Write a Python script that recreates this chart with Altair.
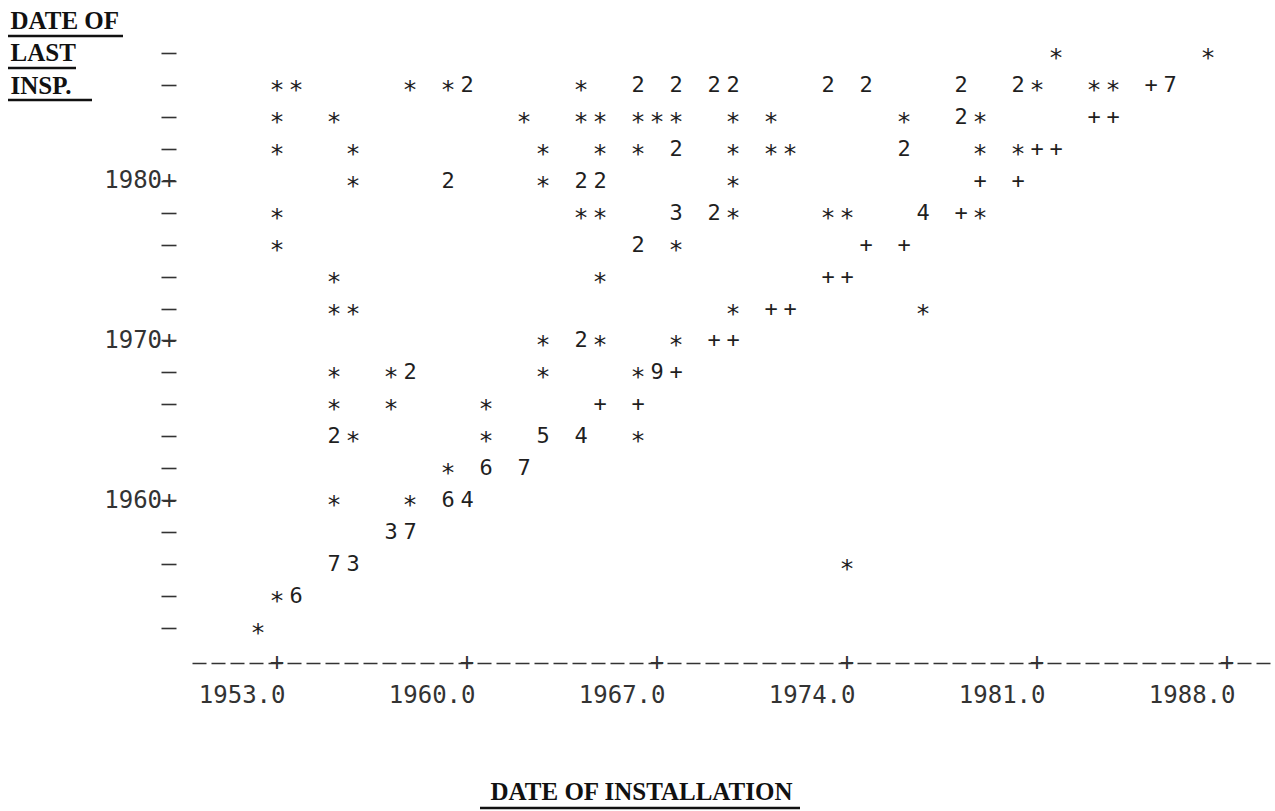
import altair as alt
import pandas as pd

INK = "#1f1f1f"
MONO = "DejaVu Sans Mono"
SERIF = "Liberation Serif"

# Line-printer scatter: one printed cell per entry.
# "*" = one unit, a digit = number of units falling in the same cell, "+" = second symbol.
inspected = [
    1988, 1988,
    1986, 1986, 1986, 1986, 1986, 1986, 1986, 1986, 1986, 1986,
    1986, 1986, 1986, 1986, 1986, 1986, 1986, 1986, 1986,
    1984, 1984, 1984, 1984, 1984, 1984, 1984, 1984, 1984, 1984,
    1984, 1984, 1984, 1984, 1984,
    1982, 1982, 1982, 1982, 1982, 1982, 1982, 1982, 1982, 1982,
    1982, 1982, 1982, 1982,
    1980, 1980, 1980, 1980, 1980, 1980, 1980, 1980,
    1978, 1978, 1978, 1978, 1978, 1978, 1978, 1978, 1978, 1978, 1978,
    1976, 1976, 1976, 1976, 1976,
    1974, 1974, 1974, 1974,
    1972, 1972, 1972, 1972, 1972, 1972,
    1970, 1970, 1970, 1970, 1970, 1970,
    1968, 1968, 1968, 1968, 1968, 1968, 1968,
    1966, 1966, 1966, 1966, 1966,
    1964, 1964, 1964, 1964, 1964, 1964,
    1962, 1962, 1962,
    1960, 1960, 1960, 1960,
    1958, 1958,
    1956, 1956, 1956,
    1954, 1954,
    1952,
]

installed = [
    1981.7, 1987.3,
    1953.0, 1953.7, 1957.9, 1959.3, 1960.0, 1964.2, 1966.3, 1967.7, 1969.1, 1969.8,
    1973.3, 1974.7, 1978.2, 1980.3, 1981.0, 1983.1, 1983.8, 1985.2, 1985.9,
    1953.0, 1955.1, 1962.1, 1964.2, 1964.9, 1966.3, 1967.0, 1967.7, 1969.8, 1971.2,
    1976.1, 1978.2, 1978.9, 1983.1, 1983.8,
    1953.0, 1955.8, 1962.8, 1964.9, 1966.3, 1967.7, 1969.8, 1971.2, 1971.9, 1976.1,
    1978.9, 1980.3, 1981.0, 1981.7,
    1955.8, 1959.3, 1962.8, 1964.2, 1964.9, 1969.8, 1978.9, 1980.3,
    1953.0, 1964.2, 1964.9, 1967.7, 1969.1, 1969.8, 1973.3, 1974.0, 1976.8, 1978.2, 1978.9,
    1953.0, 1966.3, 1967.7, 1974.7, 1976.1,
    1955.1, 1964.9, 1973.3, 1974.0,
    1955.1, 1955.8, 1969.8, 1971.2, 1971.9, 1976.8,
    1962.8, 1964.2, 1964.9, 1967.7, 1969.1, 1969.8,
    1955.1, 1957.2, 1957.9, 1962.8, 1966.3, 1967.0, 1967.7,
    1955.1, 1957.2, 1960.7, 1964.9, 1966.3,
    1955.1, 1955.8, 1960.7, 1962.8, 1964.2, 1966.3,
    1959.3, 1960.7, 1962.1,
    1955.1, 1957.9, 1959.3, 1960.0,
    1957.2, 1957.9,
    1955.1, 1955.8, 1974.0,
    1953.0, 1953.7,
    1952.3,
]

symbol = [
    "*", "*",
    "*", "*", "*", "*", "2", "*", "2", "2", "2", "2",
    "2", "2", "2", "2", "*", "*", "*", "+", "7",
    "*", "*", "*", "*", "*", "*", "*", "*", "*", "*",
    "*", "2", "*", "+", "+",
    "*", "*", "*", "*", "*", "2", "*", "*", "*", "2",
    "*", "*", "+", "+",
    "*", "2", "*", "2", "2", "*", "+", "+",
    "*", "*", "*", "3", "2", "*", "*", "*", "4", "+", "*",
    "*", "2", "*", "+", "+",
    "*", "*", "+", "+",
    "*", "*", "*", "+", "+", "*",
    "*", "2", "*", "*", "+", "+",
    "*", "*", "2", "*", "*", "9", "+",
    "*", "*", "*", "+", "+",
    "2", "*", "*", "5", "4", "*",
    "*", "6", "7",
    "*", "*", "6", "4",
    "3", "7",
    "7", "3", "*",
    "*", "6",
    "*",
]

x_ticks = [1953, 1960, 1967, 1974, 1981, 1988]
y_ticks = [1952, 1954, 1956, 1958, 1960, 1962, 1964, 1966, 1968, 1970,
           1972, 1974, 1976, 1978, 1980, 1982, 1984, 1986, 1988]

W, H = 1083, 626

df = pd.DataFrame({"installed": installed, "inspected": inspected, "symbol": symbol})

x_scale = alt.Scale(domain=[1949.868, 1989.768], nice=False, zero=False)
y_scale = alt.Scale(domain=[1949.81, 1989.0], nice=False, zero=False)

x_axis = alt.Axis(
    values=x_ticks, format=".1f", grid=False,
    domain=True, domainDash=[14, 5], domainColor="#333", domainWidth=1.6,
    ticks=False, tickSize=0,
    labelFont=MONO, labelFontSize=24, labelColor="#333",
    labelAlign="right", labelOffset=8, labelPadding=20,
    labelFlush=False, labelOverlap=False,
    title="DATE OF INSTALLATION", titleFont=SERIF, titleFontSize=25,
    titleFontWeight="bold", titleColor="#111",
    titleX=449, titleY=136, titleAlign="center", titleBaseline="alphabetic",
)

y_axis = alt.Axis(
    values=y_ticks, grid=False, domain=False, offset=16,
    ticks=True, tickSize=15, tickWidth=1.6, tickColor="#333",
    labelExpr="datum.value % 10 == 0 ? datum.value + '+' : ''",
    labelFont=MONO, labelFontSize=24, labelColor="#333",
    labelPadding=-15, labelOverlap=False,
    title=["DATE OF", "LAST", "INSP."], titleFont=SERIF, titleFontSize=25,
    titleFontWeight="bold", titleColor="#111", titleAngle=0,
    titleAlign="left", titleBaseline="alphabetic", titleLineHeight=32.5,
    titleX=-166, titleY=-9,
)

base = alt.Chart(df).encode(
    x=alt.X("installed:Q", scale=x_scale, axis=x_axis),
    y=alt.Y("inspected:Q", scale=y_scale, axis=y_axis),
    text="symbol:N",
)

# asterisks sit high in the font, so they are nudged down onto the row
stars = base.transform_filter(alt.datum.symbol == "*").mark_text(
    font=MONO, fontSize=25, dy=5, color=INK
)
others = base.transform_filter(alt.datum.symbol != "*").mark_text(
    font=MONO, fontSize=22, color=INK
)

# "+" tick glyphs printed on the horizontal axis line
axis_plus = alt.Chart(pd.DataFrame({"tick": x_ticks})).mark_text(
    text="+", font=MONO, fontSize=24, color="#333"
).encode(x=alt.X("tick:Q", scale=x_scale), y=alt.value(H))


def underline(x0, x1, y):
    return alt.Chart(alt.Data(values=[{}])).mark_rule(
        color="#111", strokeWidth=2.5
    ).encode(x=alt.value(x0), x2=alt.value(x1), y=alt.value(y))


chart = alt.layer(
    stars, others, axis_plus,
    underline(-184, -69, -1),
    underline(-184, -116, 31),
    underline(-184, -100, 63),
    underline(288, 608, 771),
).properties(
    width=W, height=H,
    autosize=alt.AutoSizeParams(type="none"),
    padding={"left": 192, "top": 37, "right": 0, "bottom": 148},
    background="white",
).configure_view(stroke=None)

chart.save("out.html", embed_options={"renderer": "svg", "actions": False})
